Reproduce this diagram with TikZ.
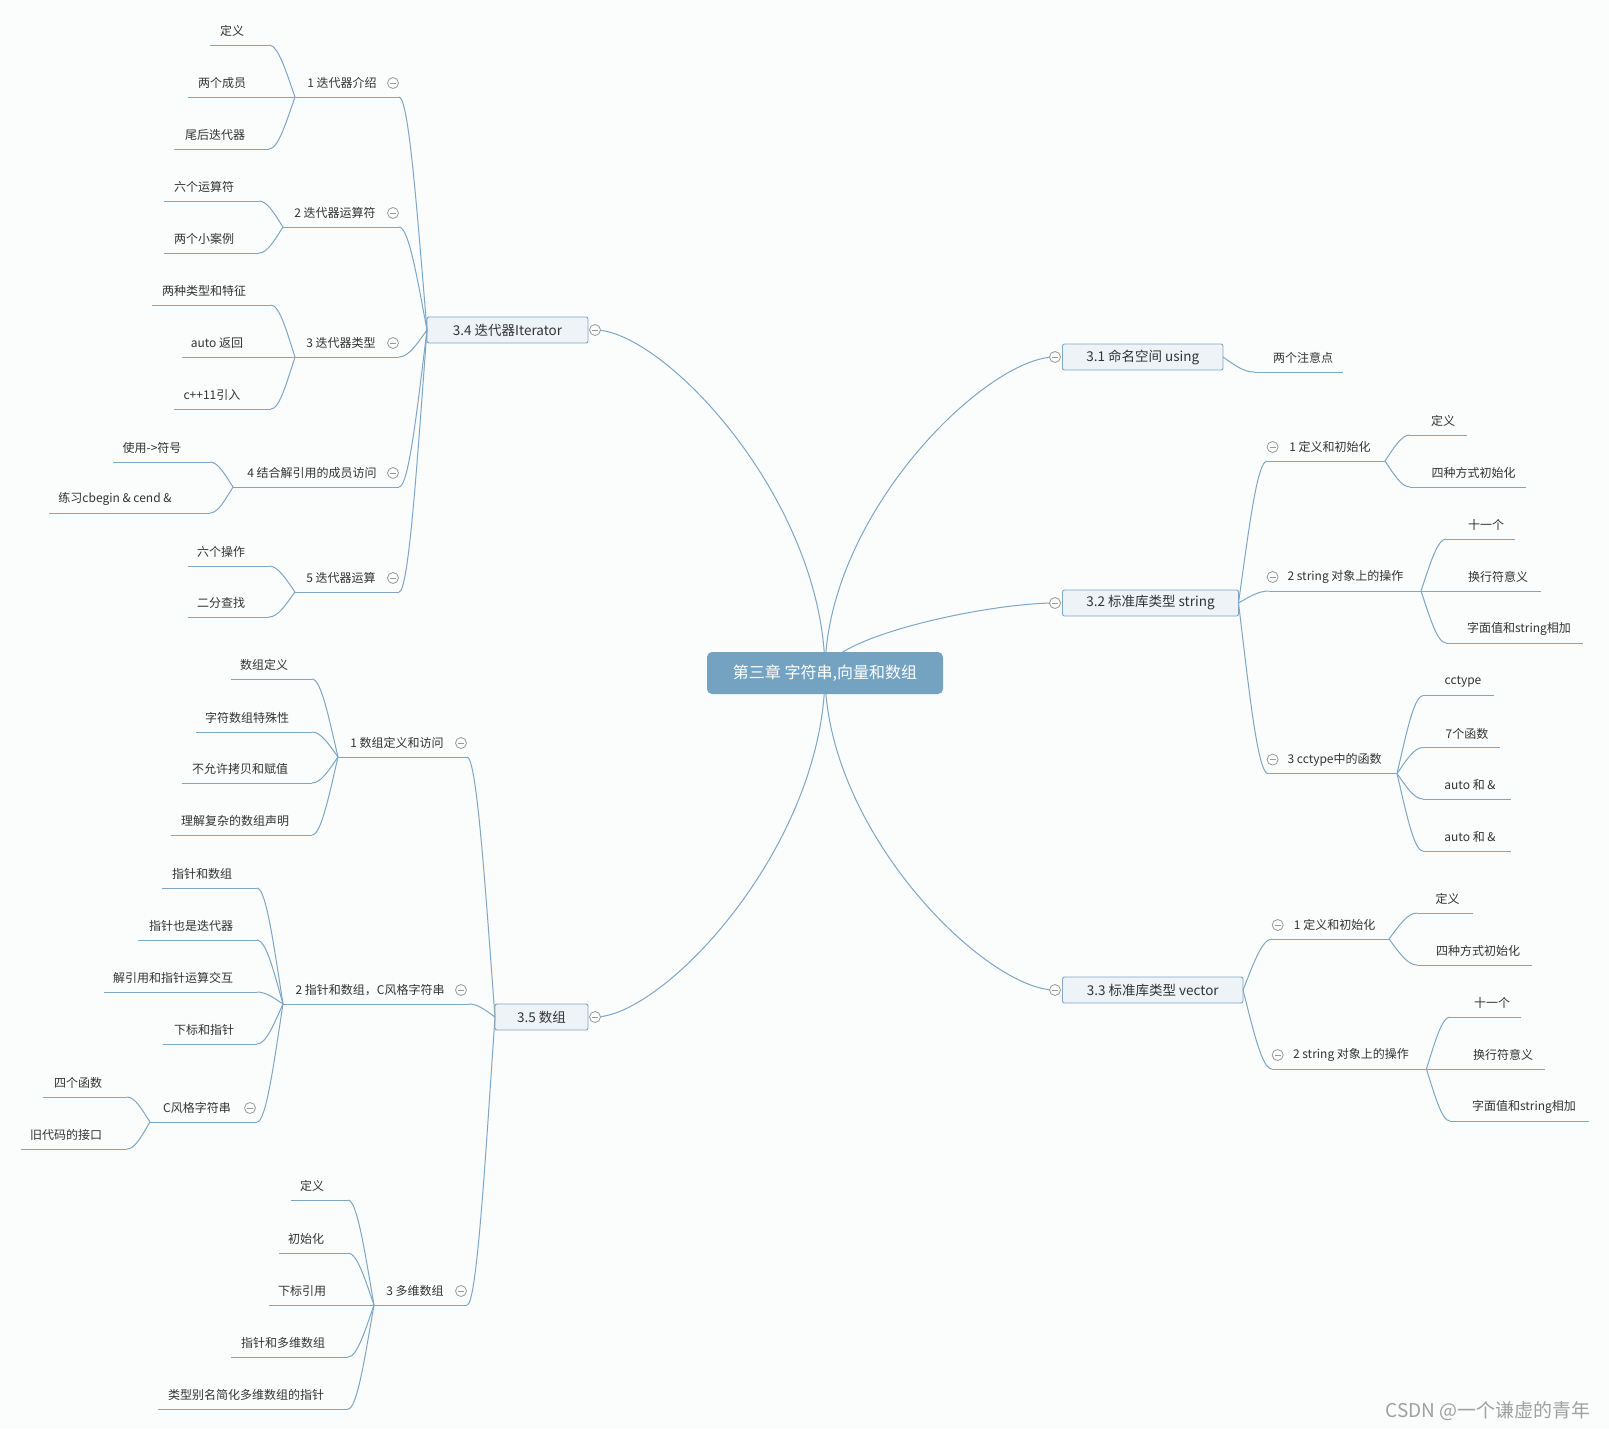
\documentclass[tikz,border=0pt]{standalone}
\usepackage{fontspec}
\setmainfont{Noto Sans CJK SC}
\usetikzlibrary{calc}
\definecolor{bgc}{HTML}{FBFCFC}
\definecolor{lnc}{HTML}{7EA6C6}
\definecolor{boxf}{HTML}{EEF3F8}
\definecolor{rootf}{HTML}{74A3C2}
\definecolor{txtc}{HTML}{333333}
\definecolor{circc}{HTML}{999999}
\definecolor{wmc}{HTML}{A0A0A0}
\tikzset{
 lnk/.style={draw=lnc, line width=1pt},
 lbl/.style={text=txtc, font=\fontsize{12}{14}\selectfont, inner sep=0pt},
 mbox/.style={draw=lnc, fill=boxf, rounded corners=2pt, line width=0.9pt, text=txtc, font=\fontsize{13.5}{16}\selectfont, inner sep=0pt, outer sep=0pt, minimum height=26pt},
 rootbox/.style={fill=rootf, rounded corners=5pt, text=white, font=\fontsize{16}{19}\selectfont, inner sep=0pt, outer sep=0pt, minimum width=236pt, minimum height=42pt},
 mmcirc/.style={circle, draw=circc, fill=bgc, line width=0.8pt, minimum size=11pt, inner sep=0pt,
   path picture={\draw[circc, line width=0.8pt] ($(path picture bounding box.west)+(2.5pt,0pt)$) -- ($(path picture bounding box.east)+(-2.5pt,0pt)$);}},
 wm/.style={text=wmc, font=\fontsize{19}{22}\selectfont, inner sep=0pt}
}
\newcommand\mmlink[2]{\draw[lnk] let \p1=(#1), \p2=(#2) in (\p1) .. controls (\x1+0.35*\x2-0.35*\x1, \y1+0.5*\y2-0.5*\y1) and (0.65*\x2+0.35*\x1, \y2) .. (\p2);}
\newcommand\mmroot[2]{\draw[lnk] let \p1=(#1), \p2=(#2) in (\p1) .. controls (\x1, 0.5*\y1+0.5*\y2) and (0.7*\x2+0.3*\x1, \y2) .. (\p2);}
\newcommand\mmleaf[6]{\coordinate (#1l) at (#2,#4); \coordinate (#1r) at (#3,#4); \draw[lnk] (#1l) -- (#1r); \node[lbl] (#1) at (#5,#4-14) {#6};}
\newcommand\mmsub[7]{\coordinate (#1L) at (#2,#4); \coordinate (#1R) at (#3,#4); \draw[lnk] (#1L) -- (#1R); \node[lbl] (#1) at (#5,#4-14) {#7}; \node[mmcirc] (#1k) at (#6,#4-14) {};}
\begin{document}
\begin{tikzpicture}[x=1pt,y=-1pt]
\fill[bgc] (0,0) rectangle (1609,1428);
\useasboundingbox (0,0) rectangle (1609,1428);
% root and main curves
\coordinate (rc) at (825,673);
\coordinate (k34) at (595,330); \coordinate (k35) at (595,1017);
\coordinate (k31) at (1055,357); \coordinate (k32) at (1055,603); \coordinate (k33) at (1055,990);
\mmroot{rc}{k34} \mmroot{rc}{k35} \mmroot{rc}{k31} \mmroot{rc}{k32} \mmroot{rc}{k33}
\node[rootbox] (root) at (rc) {第三章 字符串,向量和数组};
\node[mbox, minimum width=161pt] (b34) at (507.5,330) {3.4 迭代器Iterator};
\node[mbox, minimum width=93pt] (b35) at (541.5,1017) {3.5 数组};
\node[mbox, minimum width=160.5pt] (b31) at (1142.75,357) {3.1 命名空间 using};
\node[mbox, minimum width=176pt] (b32) at (1150.5,603) {3.2 标准库类型 string};
\node[mbox, minimum width=180.5pt] (b33) at (1152.75,990) {3.3 标准库类型 vector};
\node[mmcirc] (c34) at (k34) {}; \node[mmcirc] (c35) at (k35) {};
\node[mmcirc] (c31) at (k31) {}; \node[mmcirc] (c32) at (k32) {}; \node[mmcirc] (c33) at (k33) {};
% ---- 3.4
\mmsub{s1}{295}{399}{97}{342}{393}{1 迭代器介绍}
\mmsub{s2}{283}{399}{227}{335}{393}{2 迭代器运算符}
\mmsub{s3}{295}{399}{357}{341}{393}{3 迭代器类型}
\mmsub{s4}{233}{399}{487}{312}{393}{4 结合解引用的成员访问}
\mmsub{s5}{295}{399}{592}{341}{393}{5 迭代器运算}
\mmlink{b34.west}{s1R} \mmlink{b34.west}{s2R} \mmlink{b34.west}{s3R} \mmlink{b34.west}{s4R} \mmlink{b34.west}{s5R}
\mmleaf{a1}{210}{269}{45}{232}{定义}
\mmleaf{a2}{188}{295}{97}{222}{两个成员}
\mmleaf{a3}{174}{269}{149}{215}{尾后迭代器}
\mmlink{s1L}{a1r} \mmlink{s1L}{a3r}
\mmleaf{b1}{164}{259}{201}{204}{六个运算符}
\mmleaf{b2}{164}{259}{253}{204}{两个小案例}
\mmlink{s2L}{b1r} \mmlink{s2L}{b2r}
\mmleaf{c1}{152}{271}{305}{204}{两种类型和特征}
\mmleaf{c2}{182}{295}{357}{217}{auto 返回}
\mmleaf{c3}{174}{271}{409}{212}{c++11引入}
\mmlink{s3L}{c1r} \mmlink{s3L}{c3r}
\mmleaf{d1}{113}{210}{462}{152}{使用->符号}
\mmleaf{d2}{49}{210}{513}{115}{练习cbegin \& cend \&}
\mmlink{s4L}{d1r} \mmlink{s4L}{d2r}
\mmleaf{e1}{188}{269}{566}{221}{六个操作}
\mmleaf{e2}{188}{269}{617}{221}{二分查找}
\mmlink{s5L}{e1r} \mmlink{s5L}{e2r}
% ---- 3.5
\mmsub{t1}{338}{467}{757}{397}{461}{1 数组定义和访问}
\mmsub{t2}{283}{469}{1004}{370}{461}{2 指针和数组，C风格字符串}
\mmsub{t3}{374}{467}{1305}{415}{461}{3 多维数组}
\mmlink{b35.west}{t1R} \mmlink{b35.west}{t2R} \mmlink{b35.west}{t3R}
\mmleaf{f1}{231}{312}{679}{264}{数组定义}
\mmleaf{f2}{196}{312}{732}{247}{字符数组特殊性}
\mmleaf{f3}{182}{312}{783}{240}{不允许拷贝和赋值}
\mmleaf{f4}{171}{312}{835}{235}{理解复杂的数组声明}
\mmlink{t1L}{f1r} \mmlink{t1L}{f2r} \mmlink{t1L}{f3r} \mmlink{t1L}{f4r}
\mmleaf{g1}{162}{257}{888}{202}{指针和数组}
\mmleaf{g2}{138}{257}{940}{191}{指针也是迭代器}
\mmleaf{g3}{104}{257}{992}{173}{解引用和指针运算交互}
\mmleaf{g4}{163}{257}{1044}{204}{下标和指针}
\mmsub{g5}{150}{257}{1122}{197}{250}{C风格字符串}
\mmlink{t2L}{g1r} \mmlink{t2L}{g2r} \mmlink{t2L}{g3r} \mmlink{t2L}{g4r} \mmlink{t2L}{g5R}
\mmleaf{h1}{43}{127}{1097}{78}{四个函数}
\mmleaf{h2}{21}{127}{1149}{66}{旧代码的接口}
\mmlink{g5L}{h1r} \mmlink{g5L}{h2r}
\mmleaf{i1}{291}{348}{1200}{312}{定义}
\mmleaf{i2}{279}{348}{1253}{306}{初始化}
\mmleaf{i3}{269}{374}{1305}{302}{下标引用}
\mmleaf{i4}{231}{348}{1357}{283}{指针和多维数组}
\mmleaf{i5}{158}{348}{1409}{246}{类型别名简化多维数组的指针}
\mmlink{t3L}{i1r} \mmlink{t3L}{i2r} \mmlink{t3L}{i4r} \mmlink{t3L}{i5r}
% ---- 3.1
\mmleaf{j1}{1254}{1343}{372}{1303}{两个注意点}
\mmlink{b31.east}{j1l}
% ---- 3.2
\mmsub{r1}{1267}{1385}{461}{1330}{1272.6}{1 定义和初始化}
\mmsub{r2}{1268.6}{1421}{591}{1345.5}{1272.6}{2 string 对象上的操作}
\mmsub{r3}{1268}{1397}{773.6}{1334.6}{1272.6}{3 cctype中的函数}
\mmlink{b32.east}{r1L} \mmlink{b32.east}{r2L} \mmlink{b32.east}{r3L}
\mmleaf{k1}{1410}{1467}{435}{1443}{定义}
\mmleaf{k2}{1410}{1526}{487}{1473.6}{四种方式初始化}
\mmlink{r1R}{k1l} \mmlink{r1R}{k2l}
\mmleaf{l1}{1446}{1515}{539}{1486}{十一个}
\mmleaf{l2}{1421}{1541}{591}{1498}{换行符意义}
\mmleaf{l3}{1446}{1583}{643}{1519}{字面值和string相加}
\mmlink{r2R}{l1l} \mmlink{r2R}{l3l}
\mmleaf{m1}{1423}{1494}{695.7}{1463}{cctype}
\mmleaf{m2}{1423}{1500}{747.5}{1467}{7个函数}
\mmleaf{m3}{1423}{1511}{799}{1470}{auto 和 \&}
\mmleaf{m4}{1423}{1511}{851}{1470}{auto 和 \&}
\mmlink{r3R}{m1l} \mmlink{r3R}{m2l} \mmlink{r3R}{m3l} \mmlink{r3R}{m4l}
% ---- 3.3
\mmsub{v1}{1272}{1389}{939}{1334.6}{1277.7}{1 定义和初始化}
\mmsub{v2}{1272}{1426.4}{1069}{1351}{1277.7}{2 string 对象上的操作}
\mmlink{b33.east}{v1L} \mmlink{b33.east}{v2L}
\mmleaf{n1}{1417}{1472.5}{913}{1447.5}{定义}
\mmleaf{n2}{1417}{1531.6}{965}{1478}{四种方式初始化}
\mmlink{v1R}{n1l} \mmlink{v1R}{n2l}
\mmleaf{o1}{1450}{1521}{1017}{1492}{十一个}
\mmleaf{o2}{1426.4}{1545}{1069}{1503}{换行符意义}
\mmleaf{o3}{1450}{1589}{1121}{1524}{字面值和string相加}
\mmlink{v2R}{o1l} \mmlink{v2R}{o3l}
% watermark
\node[wm] (wmk) at (1488,1411) {CSDN @一个谦虚的青年};
\end{tikzpicture}
\end{document}
